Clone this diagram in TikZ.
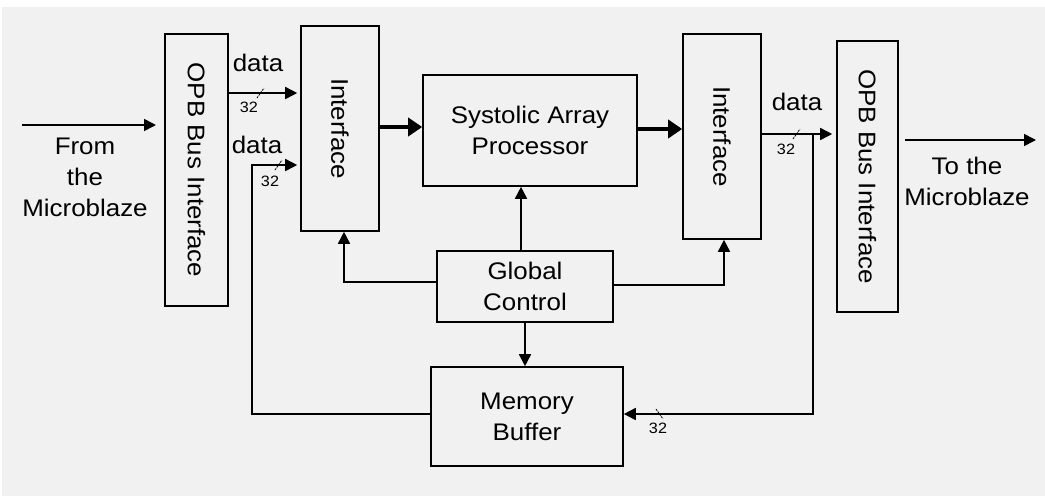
\documentclass[tikz,border=0pt]{standalone}
\usepackage{fontspec}
\setmainfont{Liberation Sans}[FakeStretch=1.08]
\usetikzlibrary{arrows.meta}
\definecolor{bg}{HTML}{F1F1F1}
\tikzset{
  blk/.style={draw=black, line width=1.6pt, fill=bg, inner sep=0pt, font=\fontsize{24}{31}\selectfont, align=center},
  conn/.style={line width=1.6pt, -{Triangle[length=12pt,width=12pt]}},
  thick conn/.style={line width=4pt, -{Triangle[length=14pt,width=18pt]}},
  lbl/.style={font=\fontsize{24}{31}\selectfont, align=center, inner sep=0pt},
  num/.style={font=\fontsize{15}{16}\selectfont, inner sep=0pt},
  tick/.style={line width=0.8pt, dash pattern=on 2pt off 1pt}
}
\begin{document}
\begin{tikzpicture}[x=1pt,y=-1pt]
\useasboundingbox (0,0) rectangle (1045,496);
\fill[white] (0,0) rectangle (1045,496);
\fill[bg] (2,7) rectangle (1045,496);
% blocks
\node[blk, minimum width=63pt, minimum height=272pt] (opbL) at (196.5,170) {\rotatebox{-90}{OPB Bus Interface}};
\node[blk, minimum width=78pt, minimum height=205pt] (if1) at (340,128.5) {\rotatebox{-90}{Interface}};
\node[blk, minimum width=214pt, minimum height=111pt] (sys) at (530,130.5) {Systolic Array\\Processor};
\node[blk, minimum width=78pt, minimum height=205pt] (if2) at (722,136.5) {\rotatebox{-90}{Interface}};
\node[blk, minimum width=61pt, minimum height=271pt] (opbR) at (867.5,176.5) {\rotatebox{-90}{OPB Bus Interface}};
\node[blk, minimum width=176pt, minimum height=71pt] (gc) at (525,286.5) {Global\\Control};
\node[blk, minimum width=192pt, minimum height=99pt] (mb) at (527,416.5) {Memory\\Buffer};
% coordinates
\coordinate (fromS) at (22,125);
\coordinate (fromE) at (156,125);
\coordinate (toS) at (905,140);
\coordinate (toE) at (1036,140);
\coordinate (lpx) at (252,0);
\coordinate (rpx) at (813,0);
\coordinate (gcl) at (344,0);
\coordinate (gcr) at (724,0);
% external arrows
\draw[conn] (fromS) -- (fromE);
\draw[conn] (toS) -- (toE);
\node[lbl] (fromlbl) at (85,177) {From\\the\\Microblaze};
\node[lbl] (tolbl) at (967,181) {To the\\Microblaze};
% data in
\draw[conn] (opbL.east |- 0,93) -- ([xshift=-3pt]if1.west |- 0,93);
\draw[conn] (mb.west |- 0,414) -| (lpx |- 0,165) -- ([xshift=-3pt]if1.west |- 0,165);
% thick arrows
\draw[thick conn] (if1.east |- 0,127) -- (sys.west |- 0,127);
\draw[thick conn] (sys.east |- 0,129) -- (if2.west |- 0,129);
% data out
\draw[conn] (if2.east |- 0,134) -- ([xshift=-4pt]opbR.west |- 0,134);
\draw[conn] (rpx |- 0,134) -- (rpx |- 0,414) -- (mb.east |- 0,414);
% control
\draw[conn] (gc.north -| 521,0) -- (sys.south -| 521,0);
\draw[conn] (gc.south -| 525,0) -- (mb.north -| 525,0);
\draw[conn] (gc.west |- 0,282) -| (if1.south -| gcl);
\draw[conn] (gc.east |- 0,285) -| (if2.south -| gcr);
% labels
\node[lbl] (d1) at (258,63) {data};
\node[lbl] (d2) at (257,145) {data};
\node[lbl] (d3) at (797,102) {data};
\node[num] (n1) at (249,107) {32};
\node[num] (n2) at (270,181) {32};
\node[num] (n3) at (786,149) {32};
\node[num] (n4) at (658,428) {32};
% bus ticks
\draw[tick] (257,98) -- (264,88);
\draw[tick] (275,170) -- (282,160);
\draw[tick] (793,139) -- (800,129);
\draw[tick] (656,409) -- (663,419);
\end{tikzpicture}
\end{document}
